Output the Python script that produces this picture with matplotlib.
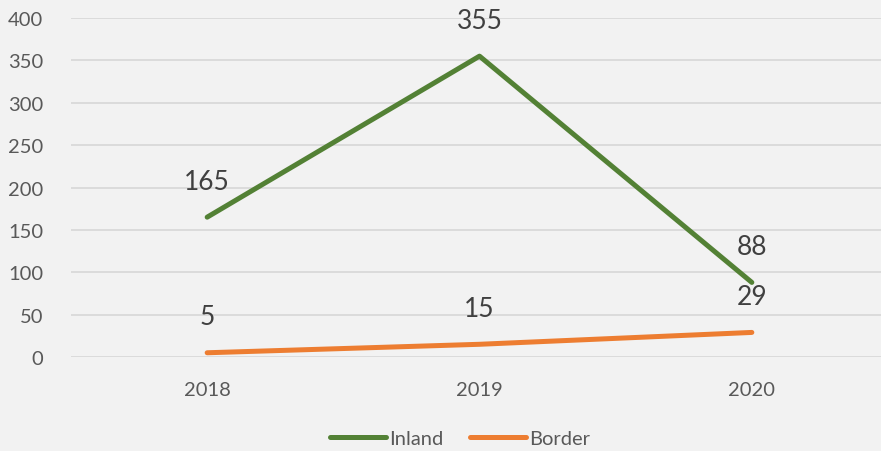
import matplotlib
matplotlib.use("Agg")
import matplotlib.pyplot as plt

years = ["2018", "2019", "2020"]
inland = [165, 355, 88]
border = [5, 15, 29]
y_ticks = [0, 50, 100, 150, 200, 250, 300, 350, 400]

plt.rcParams['font.family'] = ['Lato', 'DejaVu Sans']

W, H = 881, 452
fig = plt.figure(figsize=(W/100, H/100), dpi=100, facecolor="#F2F2F2")
x0, x1 = 71, 888
ytop, ybot = 19, 358
ax = fig.add_axes([x0/W, 1 - ybot/H, (x1 - x0)/W, (ybot - ytop)/H])
ax.set_facecolor("#F2F2F2")

xs = list(range(len(years)))
green = "#538135"
orange = "#ED7D31"
l1, = ax.plot(xs, inland, color=green, lw=3.6, solid_capstyle="round", label="Inland", zorder=3)
l2, = ax.plot(xs, border, color=orange, lw=3.6, solid_capstyle="round", label="Border", zorder=3)

for x, v in zip(xs, inland):
    ax.annotate(str(v), (x, v), xytext=(0, 26), textcoords="offset points",
                ha="center", va="center", fontsize=19, color="#404040")
for x, v in zip(xs, border):
    ax.annotate(str(v), (x, v), xytext=(0, 26), textcoords="offset points",
                ha="center", va="center", fontsize=19, color="#404040")

ax.set_xlim(-0.5, 2.5)
ax.set_ylim(0, 400)
ax.set_yticks(y_ticks)
ax.set_xticks(xs)
ax.set_xticklabels(years)
ax.tick_params(axis="both", length=0, labelsize=14.5, colors="#595959")
ax.tick_params(axis="x", pad=17)
ax.tick_params(axis="y", pad=20)
ax.grid(axis="y", color="#D9D9D9", lw=1.3)
ax.set_axisbelow(True)
for s in ax.spines.values():
    s.set_visible(False)

fig.legend(handles=[l1, l2], loc="center", bbox_to_anchor=(460/W, 1 - 439/H),
           ncol=2, frameon=False, fontsize=14.5, labelcolor="#595959",
           handlelength=2.8, handletextpad=0.15, columnspacing=1.3)

fig.savefig("out.png", dpi=100, facecolor=fig.get_facecolor())
